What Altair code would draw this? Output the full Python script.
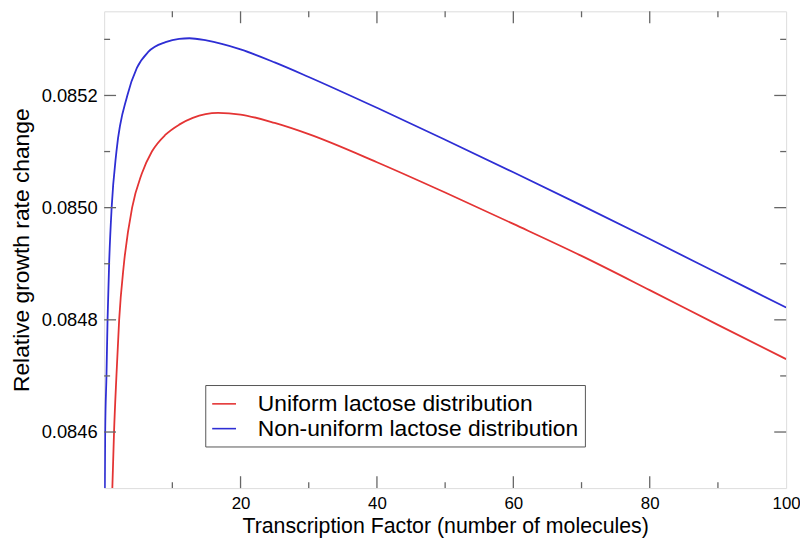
import altair as alt
import pandas as pd

# ---- data ----
uniform_x = [1.2, 1.45, 1.8, 2.2, 2.9, 4.1, 5.5, 7.0, 9.0, 11, 13, 16.7, 20, 25, 30, 40, 50, 60, 70, 80, 90, 100]
uniform_y = [0.08450, 0.08460, 0.08470, 0.08480, 0.08490, 0.08500, 0.08506, 0.08510, 0.08513, 0.085148,
             0.085160, 0.085169, 0.085166, 0.085151, 0.085131, 0.085081, 0.085027, 0.084971, 0.084914,
             0.084853, 0.084791, 0.08473]

nonuni_x = [0.1, 0.15, 0.34, 0.5, 0.73, 1.1, 1.8, 3.4, 4.8, 6.5, 9, 11, 12.5, 15, 20, 25, 30, 40, 50, 60, 70, 80, 90, 100]
nonuni_y = [0.08450, 0.08460, 0.08470, 0.08480, 0.08490, 0.08500, 0.08510, 0.08520, 0.085249, 0.085278,
            0.085295, 0.085301, 0.085302, 0.085298, 0.085282, 0.085259, 0.085233, 0.085178, 0.085121,
            0.085063, 0.085004, 0.084944, 0.084883, 0.084822]

series_names = ["Uniform lactose distribution", "Non-uniform lactose distribution"]
series_colors = ["#e43434", "#2e2ed4"]

x_major = [20, 40, 60, 80]
x_minor = [10, 30, 50, 70, 90]
x_labels = [20, 40, 60, 80, 100]
y_major = [0.0846, 0.0848, 0.0850, 0.0852]
y_minor = [0.0847, 0.0849, 0.0851, 0.0853]

x_domain = [0, 100]
y_domain = [0.0845, 0.08535]

W, H = 688, 481
FONT = "Liberation Sans"
FRAME = "#666666"

df = pd.concat([
    pd.DataFrame({"x": uniform_x, "y": uniform_y, "series": series_names[0]}),
    pd.DataFrame({"x": nonuni_x, "y": nonuni_y, "series": series_names[1]}),
])

xs = alt.Scale(domain=x_domain, nice=False, zero=False)
ys = alt.Scale(domain=y_domain, nice=False, zero=False)

x_axis = alt.Axis(values=x_labels, ticks=False, domain=False, grid=False, labelFlush=False,
                  labelFontSize=17, labelPadding=8, labelColor="black",
                  title="Transcription Factor (number of molecules)",
                  titleFontSize=21.5, titleFontWeight="normal", titleColor="black",
                  titlePadding=4, labelFont=FONT, titleFont=FONT)
y_axis = alt.Axis(values=y_major, format=".4f", ticks=False, domain=False, grid=False,
                  labelFontSize=18.5, labelPadding=7, labelColor="black",
                  title="Relative growth rate change",
                  titleFontSize=23, titleFontWeight="normal", titleColor="black",
                  titlePadding=8, labelFont=FONT, titleFont=FONT)

lines = alt.Chart(df).mark_line(interpolate="monotone", clip=True, strokeWidth=1.8).encode(
    x=alt.X("x:Q", scale=xs, axis=x_axis),
    y=alt.Y("y:Q", scale=ys, axis=y_axis),
    color=alt.Color("series:N",
                    scale=alt.Scale(domain=series_names, range=series_colors),
                    legend=alt.Legend(title=None, orient="none", legendX=102, legendY=377,
                                      symbolType="stroke", symbolSize=576, symbolStrokeWidth=1.6,
                                      labelFontSize=23, labelFont=FONT, labelColor="black",
                                      labelLimit=600, labelOffset=21, rowPadding=0,
                                      padding=6, strokeColor="#555555", fillColor="white")),
)

xmaj_df = pd.DataFrame({"x": x_major})
xmin_df = pd.DataFrame({"x": x_minor})
ymaj_df = pd.DataFrame({"y": y_major})
ymin_df = pd.DataFrame({"y": y_minor})

def xticks(data, length):
    base = alt.Chart(data).mark_rule(color=FRAME, strokeWidth=1.3)
    bottom = base.encode(x=alt.X("x:Q", scale=xs, axis=x_axis), y=alt.value(H), y2=alt.value(H - length))
    top = base.encode(x=alt.X("x:Q", scale=xs, axis=x_axis), y=alt.value(0), y2=alt.value(length))
    return [bottom, top]

def yticks(data, length):
    base = alt.Chart(data).mark_rule(color=FRAME, strokeWidth=1.3)
    left = base.encode(y=alt.Y("y:Q", scale=ys, axis=y_axis), x=alt.value(0), x2=alt.value(length))
    right = base.encode(y=alt.Y("y:Q", scale=ys, axis=y_axis), x=alt.value(W), x2=alt.value(W - length))
    return [left, right]

layers = [lines] + xticks(xmaj_df, 12) + xticks(xmin_df, 6) + yticks(ymaj_df, 12) + yticks(ymin_df, 6)

chart = alt.layer(*layers).properties(
    width=W, height=H,
    autosize=alt.AutoSizeParams(type="none"),
    padding={"left": 97, "top": 1, "right": 14, "bottom": 51},
).configure_view(stroke=FRAME, strokeWidth=1.5).configure(background="white")

chart.save("out.html", embed_options={"renderer": "svg", "actions": False})
